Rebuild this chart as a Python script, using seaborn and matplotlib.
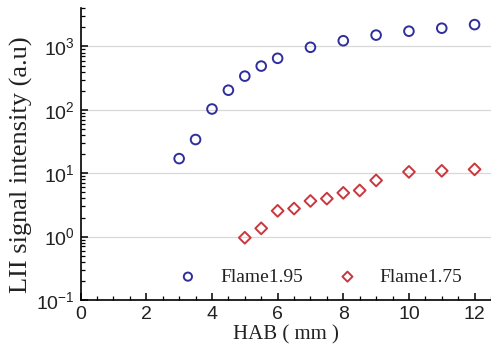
import matplotlib
matplotlib.use("Agg")
import matplotlib.pyplot as plt
import seaborn as sns
import numpy as np
import pandas as pd
from matplotlib.ticker import LogLocator, MultipleLocator, NullFormatter

hab_195 = [3, 3.5, 4, 4.5, 5, 5.5, 6, 7, 8, 9, 10, 11, 12]
lii_195 = [17, 34, 103, 204, 340, 490, 650, 970, 1230, 1510, 1740, 1940, 2210]
hab_175 = [5, 5.5, 6, 6.5, 7, 7.5, 8, 8.5, 9, 10, 11, 12]
lii_175 = [0.96, 1.35, 2.55, 2.77, 3.65, 3.97, 4.9, 5.35, 7.7, 10.5, 10.9, 11.5]
labels = ["Flame1.95", "Flame1.75"]

sns.set_style("white")
plt.rcParams['font.family'] = ['Liberation Sans', 'DejaVu Sans']

fig = plt.figure(figsize=(4.91, 3.6), dpi=100)
ax = fig.add_axes([0.1643, 0.1667, 0.8357, 0.8103])

blue = "#2f2f9c"
red = "#c8383e"
df1 = pd.DataFrame({"x": hab_195, "y": lii_195})
df2 = pd.DataFrame({"x": hab_175, "y": lii_175})
sns.scatterplot(data=df1, x="x", y="y", ax=ax, marker="o", s=48,
                facecolor="none", edgecolor=blue, linewidth=1.4, label=labels[0], zorder=3)
sns.scatterplot(data=df2, x="x", y="y", ax=ax, marker="D", s=36,
                facecolor="none", edgecolor=red, linewidth=1.4, label=labels[1], zorder=3)

ax.set_yscale("log")
ax.set_xlim(0, 12.5)
ax.set_ylim(0.1, 4000)
ax.xaxis.set_major_locator(MultipleLocator(2))
ax.xaxis.set_minor_locator(MultipleLocator(0.5))
ax.yaxis.set_major_locator(LogLocator(base=10, numticks=10))
ax.yaxis.set_minor_locator(LogLocator(base=10, subs=np.arange(2, 10), numticks=20))
ax.yaxis.set_minor_formatter(NullFormatter())

ax.grid(True, axis="y", which="major", color="#d8d8d8", linewidth=0.9)
ax.set_axisbelow(True)
for s in ["top", "right"]:
    ax.spines[s].set_visible(False)
for s in ["left", "bottom"]:
    ax.spines[s].set_color("black")
    ax.spines[s].set_linewidth(1.2)

ax.tick_params(axis="both", which="major", direction="in", length=5, width=1.1,
               labelsize=14, color="black", labelcolor="#222222", pad=4)
ax.tick_params(axis="both", which="minor", direction="in", length=3, width=0.9, color="black")
ax.tick_params(axis="x", which="both", bottom=True)
ax.tick_params(axis="y", which="both", left=True)

serif = ['Liberation Serif', 'DejaVu Serif']
ax.set_xlabel("HAB ( mm )", fontsize=15, family=serif, color="#222222", labelpad=2)
ax.set_ylabel("LII signal intensity (a.u)", fontsize=19, family=serif, color="#222222")
ax.yaxis.set_label_coords(-0.116, 0.463)

leg = ax.legend(loc="center", bbox_to_anchor=(0.572, 0.079), ncol=2, frameon=False,
                prop={'family': serif, 'size': 14}, handletextpad=0.65, columnspacing=1.3,
                markerscale=0.85, borderpad=0.2)
for t in leg.get_texts():
    t.set_color("#222222")

fig.savefig("out.png", dpi=100)
